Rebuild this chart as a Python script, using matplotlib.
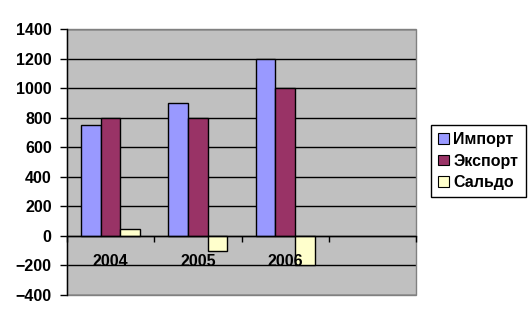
import numpy as np
import matplotlib
matplotlib.use("Agg")
import matplotlib.pyplot as plt
from matplotlib.patches import Rectangle

plt.rcParams["font.family"] = ["Liberation Sans", "DejaVu Sans"]
plt.rcParams["font.weight"] = "bold"

years = ["2004", "2005", "2006"]
n_slots = 4  # the category axis has one empty slot at the end
series_names = ["Импорт", "Экспорт", "Сальдо"]
import_vals = [750, 900, 1200]
export_vals = [800, 800, 1000]
saldo_vals = [50, -100, -200]
colors = ["#9999FF", "#993366", "#FFFFCC"]
yticks = list(range(-400, 1401, 200))

fig = plt.figure(figsize=(5.29, 3.25), dpi=100)
ax = fig.add_axes([67 / 529, 1 - 295 / 325, 349 / 529, 266 / 325])
ax.set_facecolor("#C0C0C0")

x = np.arange(len(years))
w = 0.225
for i, (vals, name) in enumerate(zip([import_vals, export_vals, saldo_vals], series_names)):
    ax.bar(x + (i - 1) * w, vals, width=w, color=colors[i], edgecolor="black",
           linewidth=1, label=name, zorder=2)

ax.set_xlim(-0.5, n_slots - 0.5)
ax.set_ylim(-400, 1400)
ax.set_yticks(yticks)
ax.yaxis.grid(True, color="black", linewidth=1)
ax.set_axisbelow(True)
ax.tick_params(axis="y", direction="out", length=5, width=1, pad=6, labelsize=11.5)

# category axis crosses at zero, labels drawn over the bars
ax.spines["bottom"].set_position(("data", 0))
ax.spines["bottom"].set_linewidth(1)
ax.spines["bottom"].set_zorder(3)
ax.spines["top"].set_visible(False)
ax.spines["right"].set_visible(False)
ax.spines["left"].set_linewidth(1)
ax.set_xticks(np.arange(-0.5, n_slots, 1.0))
ax.set_xticklabels([])
ax.tick_params(axis="x", which="major", direction="out", length=4, width=1)
ax.set_xticks(x, minor=True)
ax.set_xticklabels(years, minor=True)
ax.tick_params(axis="x", which="minor", length=0, pad=13, labelsize=11.5)
ax.xaxis.set_zorder(5)

# gray plot-area border
ax.add_patch(Rectangle((0, 0), 1, 1, transform=ax.transAxes, fill=False,
                       edgecolor="#808080", linewidth=1, clip_on=False, zorder=1))

leg = ax.legend(loc="upper left", bbox_to_anchor=(431 / 529, 1 - 125 / 325),
                bbox_transform=fig.transFigure, fancybox=False, edgecolor="black",
                framealpha=1, fontsize=11.5, handlelength=0.65, handleheight=0.65,
                handletextpad=0.3, borderpad=0.45, labelspacing=0.4, borderaxespad=0)
leg.get_frame().set_linewidth(1)
for h in leg.legend_handles:
    h.set_linewidth(0.8)

fig.savefig("out.png", dpi=100)
